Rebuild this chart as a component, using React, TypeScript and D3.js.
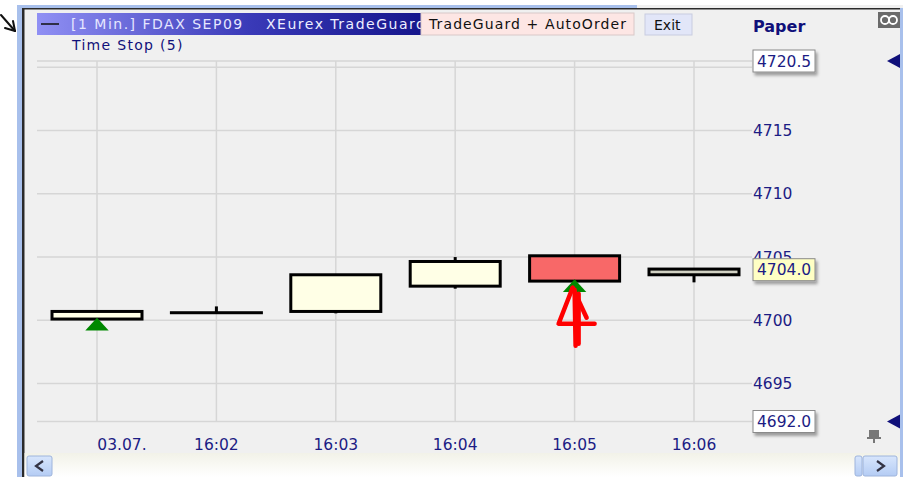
import * as d3 from 'd3';

// candles
const times = ['03.07.', '16:02', '16:03', '16:04', '16:05', '16:06'];
const opens = [4700.1, 4700.6, 4700.7, 4702.7, 4705.1, 4703.6];
const highs = [4700.7, 4701.1, 4703.6, 4705.0, 4705.1, 4704.05];
const lows = [4700.1, 4700.6, 4700.55, 4702.5, 4703.1, 4703.0];
const closes = [4700.7, 4700.6, 4703.6, 4704.65, 4703.1, 4704.05];

// axis
const yTicks = [4715, 4710, 4705, 4700, 4695];
const gridLevels = [4720.5, 4720, 4715, 4710, 4705, 4700, 4695, 4692];
const markerValues = [4720.5, 4704.0, 4692.0];
const markerKinds = ['limit', 'last', 'limit'];

// buy signals
const signalIdx = [0, 4];
const signalPrices = [4700.0, 4703.05];

const W = 906;
const H = 477;
const FONT = '"DejaVu Sans", Verdana, sans-serif';
const NAVY = '#1c1c84';

const App = () => {
  const x = d3.scalePoint<string>().domain(times).range([97, 694]);
  const y = d3.scaleLinear().domain([4692, 4720.5]).range([421.5, 61]);
  const bodyW = 90;

  const candles = times.map((t, i) => ({
    t,
    o: opens[i],
    h: highs[i],
    l: lows[i],
    c: closes[i],
    last: i === times.length - 1,
  }));

  const fillFor = (d: any) => (d.last ? '#d2d2c4' : d.c < d.o ? '#f86868' : '#ffffe6');

  const tri = d3.symbol().type(d3.symbolTriangle).size(130);

  return (
    <div style={{ position: 'fixed', left: 0, top: 0 }}>
      <svg width={W} height={H} style={{ display: 'block', fontFamily: FONT }}>
        <defs>
          <linearGradient id="title" x1="0" x2="1" y1="0" y2="0">
            <stop offset="0" stopColor="#9090f4" />
            <stop offset="0.55" stopColor="#3a3ab8" />
            <stop offset="1" stopColor="#16168c" />
          </linearGradient>
          <linearGradient id="scroll" x1="0" x2="0" y1="0" y2="1">
            <stop offset="0" stopColor="#f2f2e8" />
            <stop offset="1" stopColor="#ffffff" />
          </linearGradient>
          <linearGradient id="btn" x1="0" x2="0" y1="0" y2="1">
            <stop offset="0" stopColor="#d8e6fc" />
            <stop offset="1" stopColor="#b4ccf4" />
          </linearGradient>
          <clipPath id="titleClip">
            <rect x={37} y={13} width={384} height={22} />
          </clipPath>
          <filter id="shadow" x="-10%" y="-10%" width="130%" height="150%">
            <feDropShadow dx="2" dy="3" stdDeviation="1.5" floodColor="#000" floodOpacity="0.35" />
          </filter>
        </defs>

        {/* window frame */}
        <rect x={0} y={0} width={W} height={H} fill="#ffffff" />
        <rect x={17} y={5} width={886} height={H - 5} fill="#f0f0f0" />
        <rect x={17} y={5} width={620} height={3} fill="#a8c0ec" />
        <rect x={17} y={5} width={5} height={H - 5} fill="#a8c0ec" />
        <rect x={22} y={8} width={2.5} height={H - 8} fill="#2a2a2a" />
        <rect x={22} y={8} width={881} height={1.5} fill="#2a2a2a" />
        <rect x={900} y={8} width={3} height={H - 8} fill="#a8c0ec" />

        {/* hand-drawn arrow top-left */}
        <g stroke="#111" strokeWidth={2} fill="none" strokeLinecap="round">
          <line x1={1} y1={15} x2={15} y2={31} />
          <line x1={15} y1={31} x2={5} y2={28} />
          <line x1={15} y1={31} x2={13} y2={21} />
        </g>

        {/* grid */}
        <g stroke="#d6d6d6" strokeWidth={1.5}>
          {gridLevels.map((v) => (
            <line key={'h' + v} x1={37} x2={752} y1={y(v)} y2={y(v)} />
          ))}
          {times.map((t) => (
            <line key={'v' + t} x1={x(t)} x2={x(t)} y1={y(4720.5)} y2={y(4692)} />
          ))}
        </g>

        {/* candles */}
        {candles.map((d) => {
          const cx = x(d.t) as number;
          const top = y(Math.max(d.o, d.c));
          const bot = y(Math.min(d.o, d.c));
          return (
            <g key={d.t}>
              <line x1={cx} x2={cx} y1={y(d.h)} y2={y(d.l)} stroke="#000" strokeWidth={3} />
              <rect
                x={cx - bodyW / 2}
                y={top}
                width={bodyW}
                height={Math.max(bot - top, 0.01)}
                fill={fillFor(d)}
                stroke="#000"
                strokeWidth={3}
              />
            </g>
          );
        })}

        {/* signals */}
        {signalIdx.map((idx, k) => (
          <path
            key={'s' + k}
            d={tri() as string}
            transform={`translate(${x(times[idx])},${y(signalPrices[k]) + 6}) scale(1.35,0.85)`}
            fill="#008800"
          />
        ))}

        {/* red annotation arrow */}
        {(() => {
          const ax = x(times[signalIdx[1]]) as number;
          const ay = y(signalPrices[1]) + 6;
          return (
            <g stroke="#ff0000" strokeWidth={4.5} fill="none" strokeLinecap="round" strokeLinejoin="round">
              <path d={`M${ax - 2},${ay} L${ax - 16},${ay + 36} L${ax + 20},${ay + 36}`} />
              <path d={`M${ax - 2},${ay} L${ax + 12},${ay + 30}`} />
              <path d={`M${ax},${ay + 2} L${ax + 1},${ay + 58}`} />
              <path d={`M${ax + 4},${ay + 6} L${ax + 4},${ay + 56}`} />
            </g>
          );
        })()}

        {/* y labels */}
        <g fill={NAVY} fontSize={15.5}>
          {yTicks.map((v) => (
            <text key={'y' + v} x={753} y={y(v)} dy="0.36em">
              {v}
            </text>
          ))}
        </g>

        {/* price markers */}
        {markerValues.map((v, i) => (
          <g key={'m' + i}>
            <rect
              x={753}
              y={y(v) - 11}
              width={62}
              height={22}
              fill={markerKinds[i] === 'last' ? '#ffffc4' : '#ffffff'}
              stroke="#8a8a8a"
              strokeWidth={1}
              filter="url(#shadow)"
            />
            <text x={757} y={y(v)} dy="0.36em" fill={NAVY} fontSize={15.5}>
              {v.toFixed(1)}
            </text>
          </g>
        ))}
        {markerKinds.map((k, i) =>
          k === 'limit' ? (
            <path
              key={'t' + i}
              d={`M887,${y(markerValues[i])} L900,${y(markerValues[i]) - 7} L900,${y(markerValues[i]) + 7} Z`}
              fill="#10107a"
            />
          ) : null
        )}

        {/* x labels */}
        <g fill={NAVY} fontSize={15.5} textAnchor="middle">
          {times.map((t) => (
            <text key={'x' + t} x={(x(t) as number) + (t === times[0] ? 25 : 0)} y={444} dy="0.36em">
              {t}
            </text>
          ))}
        </g>

        {/* title bar */}
        <rect x={37} y={13} width={384} height={22} fill="url(#title)" />
        <g clipPath="url(#titleClip)" fontSize={14} letterSpacing={1.5}>
          <line x1={41} x2={59} y1={24} y2={24} stroke="#111" strokeWidth={1.5} />
          <text x={71} y={24} dy="0.36em" fill="#e6e6ff">
            [1 Min.] FDAX SEP09
          </text>
          <text x={266} y={24} dy="0.36em" fill="#eeeeff">
            XEurex TradeGuard
          </text>
        </g>
        <rect x={421} y={13} width={213} height={22} fill="#fde6e4" stroke="#d8c8c8" strokeWidth={1} />
        <text x={429} y={24} dy="0.36em" fontSize={14} letterSpacing={1.1} fill="#111">
          TradeGuard + AutoOrder
        </text>
        <rect x={645} y={14} width={47} height={21} fill="#e2e6f8" stroke="#c8cce0" strokeWidth={1} />
        <text x={654} y={24.5} dy="0.36em" fontSize={14} fill="#111">
          Exit
        </text>
        <text x={753} y={26} dy="0.36em" fontSize={16} fontWeight="bold" fill="#10107a">
          Paper
        </text>
        <text x={72} y={45} dy="0.36em" fontSize={14} letterSpacing={1.3} fill="#10107a">
          Time Stop  (5)
        </text>

        {/* link icon top right */}
        <rect x={878} y={12} width={22} height={16} fill="#6a6a6a" />
        <circle cx={885} cy={20} r={4} fill="none" stroke="#fff" strokeWidth={1.8} />
        <circle cx={893} cy={20} r={4} fill="none" stroke="#fff" strokeWidth={1.8} />

        {/* pin icon */}
        <g fill="#777">
          <rect x={869} y={430} width={10} height={8} />
          <rect x={873} y={438} width={2} height={5} />
          <rect x={867} y={437} width={14} height={2} />
        </g>

        {/* scrollbar */}
        <rect x={24.5} y={453} width={875.5} height={24} fill="url(#scroll)" />
        <rect x={27} y={456} width={25} height={20} rx={2} fill="url(#btn)" stroke="#9eb4dc" />
        <path d="M43,461 L36,466 L43,471" fill="none" stroke="#334" strokeWidth={2.2} />
        <rect x={855} y={456} width={7} height={20} rx={2} fill="url(#btn)" stroke="#9eb4dc" />
        <rect x={863} y={456} width={34} height={20} rx={2} fill="url(#btn)" stroke="#9eb4dc" />
        <path d="M877,461 L884,466 L877,471" fill="none" stroke="#334" strokeWidth={2.2} />
      </svg>
    </div>
  );
};

export default App;
